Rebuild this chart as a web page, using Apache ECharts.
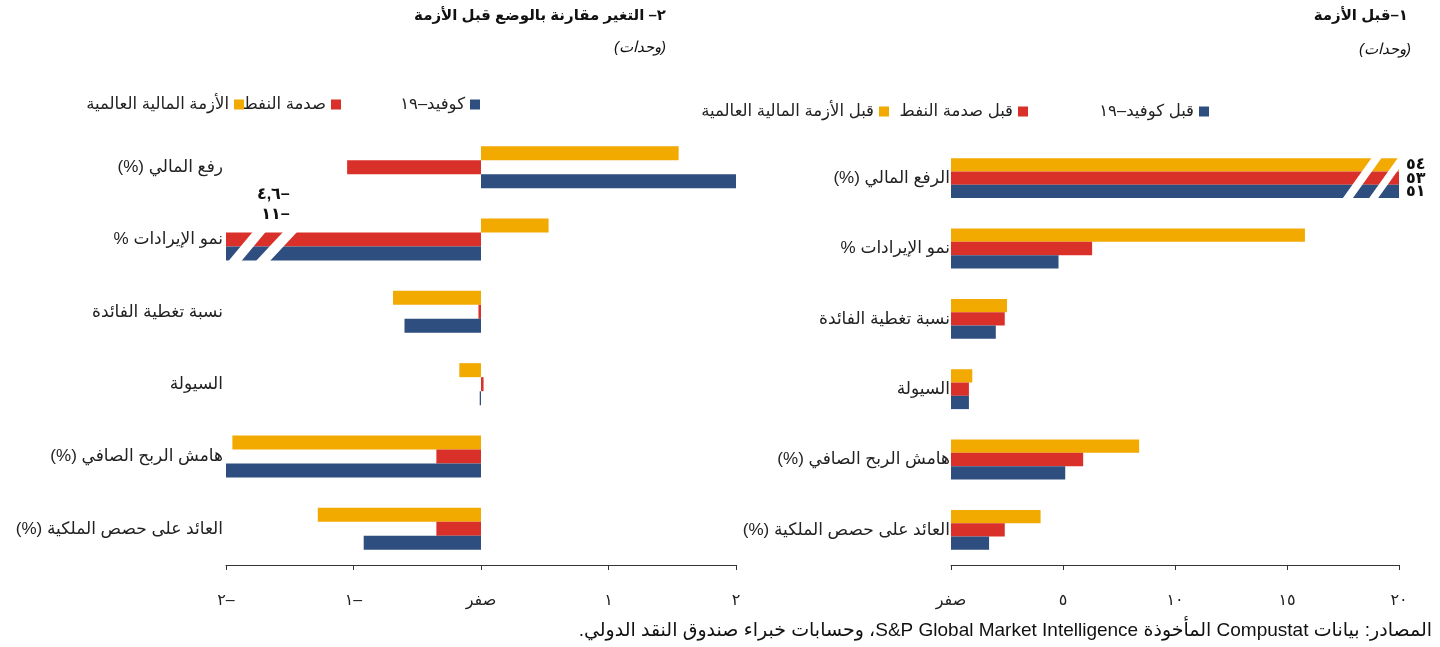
<!DOCTYPE html>
<html dir="rtl" lang="ar">
<head>
<meta charset="utf-8">
<script src="https://cdn.jsdelivr.net/npm/echarts@6/dist/echarts.min.js"></script>
<style>html,body{margin:0;padding:0;background:#fff}#c{width:1440px;height:647px}</style>
</head>
<body>
<div id="c"></div>
<script>
// ---------- data ----------
const rightCategories = ['الرفع المالي (%)', 'نمو الإيرادات %', 'نسبة تغطية الفائدة', 'السيولة', 'هامش الربح الصافي (%)', 'العائد على حصص الملكية (%)'];
const leftCategories = ['رفع المالي (%)', 'نمو الإيرادات %', 'نسبة تغطية الفائدة', 'السيولة', 'هامش الربح الصافي (%)', 'العائد على حصص الملكية (%)'];
const beforeNames = ['قبل الأزمة المالية العالمية', 'قبل صدمة النفط', 'قبل كوفيد–١٩'];
const changeNames = ['الأزمة المالية العالمية', 'صدمة النفط', 'كوفيد–١٩'];
const beforeGFC = [54, 15.8, 2.5, 0.95, 8.4, 4.0];
const beforeOil = [53, 6.3, 2.4, 0.8, 5.9, 2.4];
const beforeCovid = [51, 4.8, 2.0, 0.8, 5.1, 1.7];
const changeGFC = [1.55, 0.53, -0.69, -0.17, -1.95, -1.28];
const changeOil = [-1.05, -4.6, -0.02, 0.02, -0.35, -0.35];
const changeCovid = [2.0, -11, -0.6, -0.01, -2.0, -0.92];
const leftTickValues = [-2, -1, 0, 1, 2];
const leftTickLabels = ['–٢', '–١', 'صفر', '١', '٢'];
const rightTickValues = [0, 5, 10, 15, 20];
const rightTickLabels = ['صفر', '٥', '١٠', '١٥', '٢٠'];
const leftBreakLabels = ['–٤,٦', '–١١'];
const titleLeft = '٢– التغير مقارنة بالوضع قبل الأزمة';
const titleRight = '١–قبل الأزمة';
const unitText = '(وحدات)';
const sourceText = 'المصادر: بيانات Compustat المأخوذة S&P Global Market Intelligence، وحسابات خبراء صندوق النقد الدولي.';

// ---------- style ----------
const YEL = '#F2A900', RED = '#D9302A', BLU = '#2D4E7E';
const FONT = 'Arial, "Liberation Sans", "DejaVu Sans", sans-serif';
const toArabicDigits = v => String(v).replace(/[0-9]/g, d => '٠١٢٣٤٥٦٧٨٩'[+d]);

const chart = echarts.init(document.getElementById('c'));

function barSeries(name, data, color, xi, yi, bw, withLabel) {
  return {
    type: 'bar', name, xAxisIndex: xi, yAxisIndex: yi,
    barWidth: bw, barGap: '0%', clip: true,
    itemStyle: { color },
    data: data.map((v, i) => (withLabel && i === 0) ? {
      value: v,
      label: { show: true, position: 'right', distance: 7, formatter: p => toArabicDigits(p.value),
               fontFamily: FONT, fontSize: 16, fontWeight: 'bold', color: '#111' }
    } : v)
  };
}

function legendItem(name, color, right, top) {
  return {
    data: [{ name, icon: 'rect', itemStyle: { color } }],
    right, top, align: 'right', padding: 0,
    itemWidth: 10, itemHeight: 10, selectedMode: false,
    textStyle: { fontFamily: FONT, fontSize: 16.5, color: '#222' }
  };
}

const axisLabelStyle = { fontFamily: FONT, fontSize: 16, color: '#222' };

chart.setOption({
  animation: false,
  backgroundColor: '#fff',
  title: [
    { text: titleLeft, right: 1440 - 666, top: 8, padding: 0, textStyle: { fontFamily: FONT, fontSize: 15, fontWeight: 'bold', color: '#111' } },
    { text: unitText, right: 1440 - 666, top: 40, padding: 0, textStyle: { fontFamily: FONT, fontSize: 15, fontStyle: 'italic', fontWeight: 'normal', color: '#111' } },
    { text: titleRight, right: 1440 - 1408, top: 8, padding: 0, textStyle: { fontFamily: FONT, fontSize: 15, fontWeight: 'bold', color: '#111' } },
    { text: unitText, right: 1440 - 1411, top: 42, padding: 0, textStyle: { fontFamily: FONT, fontSize: 15, fontStyle: 'italic', fontWeight: 'normal', color: '#111' } },
    { text: sourceText, right: 8, top: 621, padding: 0, textStyle: { fontFamily: FONT, fontSize: 19, fontWeight: 'normal', color: '#111' } }
  ],
  legend: [
    legendItem(changeNames[2], BLU, 1440 - 480, 96),
    legendItem(changeNames[1], RED, 1440 - 341, 96),
    legendItem(changeNames[0], YEL, 1440 - 244, 96),
    legendItem(beforeNames[2], BLU, 1440 - 1209, 103),
    legendItem(beforeNames[1], RED, 1440 - 1028, 103),
    legendItem(beforeNames[0], YEL, 1440 - 889, 103)
  ],
  grid: [
    { left: 226, right: 1440 - 736, top: 131, bottom: 647 - 565 },
    { left: 951, right: 1440 - 1399, top: 143, bottom: 647 - 565 }
  ],
  xAxis: [
    { gridIndex: 0, type: 'value', min: -2, max: 2, interval: 1,
      axisLine: { show: true, onZero: false, lineStyle: { color: '#333' } },
      axisTick: { show: true, length: 5, lineStyle: { color: '#333' } },
      splitLine: { show: false },
      axisLabel: { ...axisLabelStyle, margin: 28, formatter: v => leftTickLabels[leftTickValues.indexOf(v)] ?? '' } },
    { gridIndex: 1, type: 'value', min: 0, max: 20, interval: 5,
      axisLine: { show: true, onZero: false, lineStyle: { color: '#333' } },
      axisTick: { show: true, length: 5, lineStyle: { color: '#333' } },
      splitLine: { show: false },
      axisLabel: { ...axisLabelStyle, margin: 28, formatter: v => rightTickLabels[rightTickValues.indexOf(v)] ?? '' } }
  ],
  yAxis: [
    { gridIndex: 0, type: 'category', inverse: true, data: leftCategories, position: 'left',
      axisLine: { show: false, onZero: false }, axisTick: { show: false },
      axisLabel: { ...axisLabelStyle, fontSize: 17, margin: 3 } },
    { gridIndex: 1, type: 'category', inverse: true, data: rightCategories, position: 'left',
      axisLine: { show: false, onZero: false }, axisTick: { show: false },
      axisLabel: { ...axisLabelStyle, fontSize: 17, margin: 1 } }
  ],
  series: [
    barSeries(changeNames[0], changeGFC, YEL, 0, 0, 14, false),
    barSeries(changeNames[1], changeOil, RED, 0, 0, 14, false),
    barSeries(changeNames[2], changeCovid, BLU, 0, 0, 14, false),
    barSeries(beforeNames[0], beforeGFC, YEL, 1, 1, 13.3, true),
    barSeries(beforeNames[1], beforeOil, RED, 1, 1, 13.3, true),
    barSeries(beforeNames[2], beforeCovid, BLU, 1, 1, 13.3, true)
  ]
});

// ---------- axis-break slashes & off-scale labels ----------
function stripe(gridIndex, value, catIndex, dTop, dBottom, slant, w) {
  const [xc, yc] = chart.convertToPixel({ gridIndex }, [value, catIndex]);
  const yT = yc + dTop, yB = yc + dBottom;
  const ym = (yT + yB) / 2, k = slant / (yB - yT);
  const xAt = y => xc - (y - ym) * k;
  return {
    type: 'polygon', z: 100,
    shape: { points: [[xAt(yB) - w / 2, yB], [xAt(yB) + w / 2, yB], [xAt(yT) + w / 2, yT], [xAt(yT) - w / 2, yT]] },
    style: { fill: '#fff' }
  };
}
const [lblX, revY] = chart.convertToPixel({ gridIndex: 0 }, [-1.5, 1]);
chart.setOption({
  graphic: [
    stripe(0, -1.835, 1, -8, 22, 25, 13),
    stripe(0, -1.604, 1, -8, 22, 28, 14),
    stripe(1, 18.35, 0, -21, 21, 30, 10),
    stripe(1, 19.5, 0, -21, 21, 30, 9),
    { type: 'text', z: 100, x: lblX, y: revY - 45, style: { text: leftBreakLabels[0], fontFamily: FONT, fontSize: 16, fontWeight: 'bold', fill: '#111', align: 'right', verticalAlign: 'middle' } },
    { type: 'text', z: 100, x: lblX, y: revY - 25, style: { text: leftBreakLabels[1], fontFamily: FONT, fontSize: 16, fontWeight: 'bold', fill: '#111', align: 'right', verticalAlign: 'middle' } }
  ]
});
</script>
</body>
</html>
